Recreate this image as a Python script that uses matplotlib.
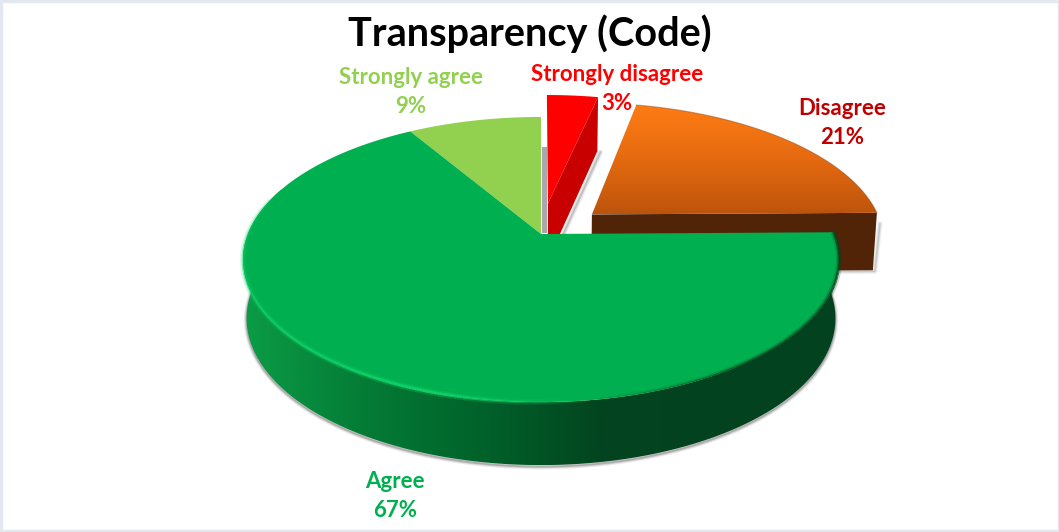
import numpy as np
import matplotlib
matplotlib.use('Agg')
import matplotlib.pyplot as plt
from matplotlib.collections import LineCollection
from matplotlib.colors import LinearSegmentedColormap, to_rgb
from matplotlib.patches import Polygon, Rectangle

plt.rcParams['font.family'] = ['Lato', 'DejaVu Sans']

title = 'Transparency (Code)'
categories = ['Strongly agree', 'Agree', 'Disagree', 'Strongly disagree']
# shares estimated from the slice edges, they round to the printed labels
values = [8.6, 66.6, 21.4, 3.4]
explode = [0, 0, 0.23, 0.23]

label_colors = ['#92d050', '#00b050', '#c00000', '#ff0000']
label_pos = [(411, 92), (395, 496), (842, 123), (617, 89)]

# pie projection, in pixels
CX, CY = 541, 234
W, H, T = 293.2, 138, 0.179
SHRINK = 0.988


def project(u, v):
    x = CX + W * u / (1 + T * v)
    y = CY - H * v / (1 + T * v)
    return x, y


def lower(x, y):
    # the wall gets a bit taller towards the viewer
    y = np.asarray(y)
    return CX + (np.asarray(x) - CX) * SHRINK, y + 54 + 9 * (y - 96) / 306


def arc(a0, a1, ex=0.0, mid=0.0, n=200):
    t = np.radians(np.linspace(a0, a1, n))
    m = np.radians(mid)
    return project(np.cos(t) + ex * np.cos(m), np.sin(t) + ex * np.sin(m))


def gradient(ax, xy, stops, horizontal, z):
    xy = np.asarray(xy)
    cmap = LinearSegmentedColormap.from_list('g', stops)
    g = np.linspace(0, 1, 256)
    g = g[None, :] if horizontal else g[:, None]
    x0, x1 = xy[:, 0].min(), xy[:, 0].max()
    y0, y1 = xy[:, 1].min(), xy[:, 1].max()
    im = ax.imshow(g, cmap=cmap, extent=(x0, x1, y1, y0), aspect='auto',
                   zorder=z, interpolation='bilinear')
    clip = Polygon(xy, closed=True, transform=ax.transData, fc='none', ec='none')
    ax.add_patch(clip)
    im.set_clip_path(clip)


def shadow(ax, x, y, z, dx=0, dy=2, k=1.0):
    for lw, alpha in [(4, 0.1), (2.5, 0.16), (1.2, 0.25)]:
        ax.plot(np.asarray(x) + dx, np.asarray(y) + dy, color='#404040',
                lw=lw, alpha=alpha * k, zorder=z, solid_capstyle='round')


fig = plt.figure(figsize=(10.59, 5.32), dpi=100)
ax = fig.add_axes([0, 0, 1, 1])
ax.axis('off')

# slice angles, counter clockwise from the top
edges = 90 + np.concatenate([[0], np.cumsum(values)]) / sum(values) * 360
sa0, sa1 = edges[0], edges[1]
ag0, ag1 = edges[1], edges[2]
di0, di1 = edges[2], edges[3]
sd0, sd1 = edges[3], edges[4]
di_mid = (di0 + di1) / 2
sd_mid = (sd0 + sd1) / 2

# strongly agree
ax.add_patch(Rectangle((542, 147), 5, 86, fc='#a9a9ad', ec='none', zorder=1))
x, y = arc(sa0, sa1)
ax.add_patch(Polygon(np.r_[[[CX, CY]], np.c_[x, y]], fc='#92d050', ec='none', zorder=2))

# strongly disagree
x, y = arc(sd0, sd1, explode[3], sd_mid)
ax0, ay0 = project(explode[3] * np.cos(np.radians(sd_mid)), explode[3] * np.sin(np.radians(sd_mid)))
ex, ey = x[0], y[0]
bx, by = lower([ax0, ex], [ay0, ey])
shadow(ax, [bx[1], bx[0]], [by[1], by[0]], 3, dx=3, dy=1, k=0.7)
ax.add_patch(Polygon([(ax0, ay0), (ex, ey), (bx[1], by[1]), (bx[0], by[0])], fc='#c80000', ec='none', zorder=4))
ax.add_patch(Polygon(np.r_[[[ax0, ay0]], np.c_[x, y]], fc='#ff0000', ec='none', zorder=5))

# disagree
x, y = arc(di0, di1, explode[2], di_mid)
ax0, ay0 = project(explode[2] * np.cos(np.radians(di_mid)), explode[2] * np.sin(np.radians(di_mid)))
ex, ey = x[0], y[0]
bx, by = lower([ax0, ex], [ay0, ey])
shadow(ax, [bx[0], bx[1], ex + 1], [by[0], by[1], ey + 10], 6, dx=2, dy=1, k=0.6)
ax.add_patch(Polygon([(ax0, ay0), (ex, ey), (bx[1], by[1]), (bx[0], by[0])], fc='#522407', ec='none', zorder=7))
gradient(ax, np.r_[[[ax0, ay0]], np.c_[x, y]], ['#ff7c15', '#e56a10', '#bd540c'], False, 8)
ax.plot(x, y, color='#8a4a1c', lw=0.8, alpha=0.45, zorder=9)

# agree, side wall first
x, y = arc(160, ag1)
bx, by = lower(x, y)
shadow(ax, bx, by, 10, dx=0, dy=1.5)
wall = np.r_[np.c_[x, y], np.c_[bx, by][::-1]]
gradient(ax, wall, ['#0b9c46', '#047c36', '#00622a', '#03441f', '#03421f', '#03421f'], True, 11)

x, y = arc(ag0, ag1, n=500)
ax.add_patch(Polygon(np.r_[[[CX, CY]], np.c_[x, y]], fc='#00b050', ec='none', zorder=12))

# bevel along the rim, light on the left and dark on the right
x, y = arc(165, ag1, n=400)
pts = np.c_[x, y]
segs = np.stack([pts[:-1], pts[1:]], axis=1)
ang = np.linspace(165, ag1, len(segs))
rim = []
for a in ang:
    if a < 278:
        fade = min(1, 0.2 + 0.6 * (a - 165) / 60) * min(1, (278 - a) / 25)
        rim.append(to_rgb('#10d068') + (fade,))
    else:
        k = min(1, (a - 278) / 30)
        rim.append(to_rgb('#02451f') + (0.75 * k,))
ax.add_collection(LineCollection(segs, colors=rim, linewidths=2, zorder=13))
ax.add_collection(LineCollection(segs, colors=[(c[0], c[1], c[2], c[3] * 0.3) for c in rim],
                                 linewidths=4.5, zorder=13))

# labels
for name, val, col, (lx, ly) in zip(categories, values, label_colors, label_pos):
    ax.text(lx, ly, f'{name}\n{val:.0f}%', color=col, ha='center', va='center',
            fontsize=16, fontweight='bold', linespacing=1.5, zorder=20)
ax.text(530, 34, title, color='black', ha='center', va='center',
        fontsize=28.5, fontweight='bold', zorder=20)

# chart frame
ax.add_patch(Rectangle((0.5, 0.5), 1058, 530, fc='none', ec='#e3e7f0', lw=2.5, zorder=30))

ax.set_xlim(0, 1059)
ax.set_ylim(532, 0)
fig.savefig('out.png', dpi=100, facecolor='white')
